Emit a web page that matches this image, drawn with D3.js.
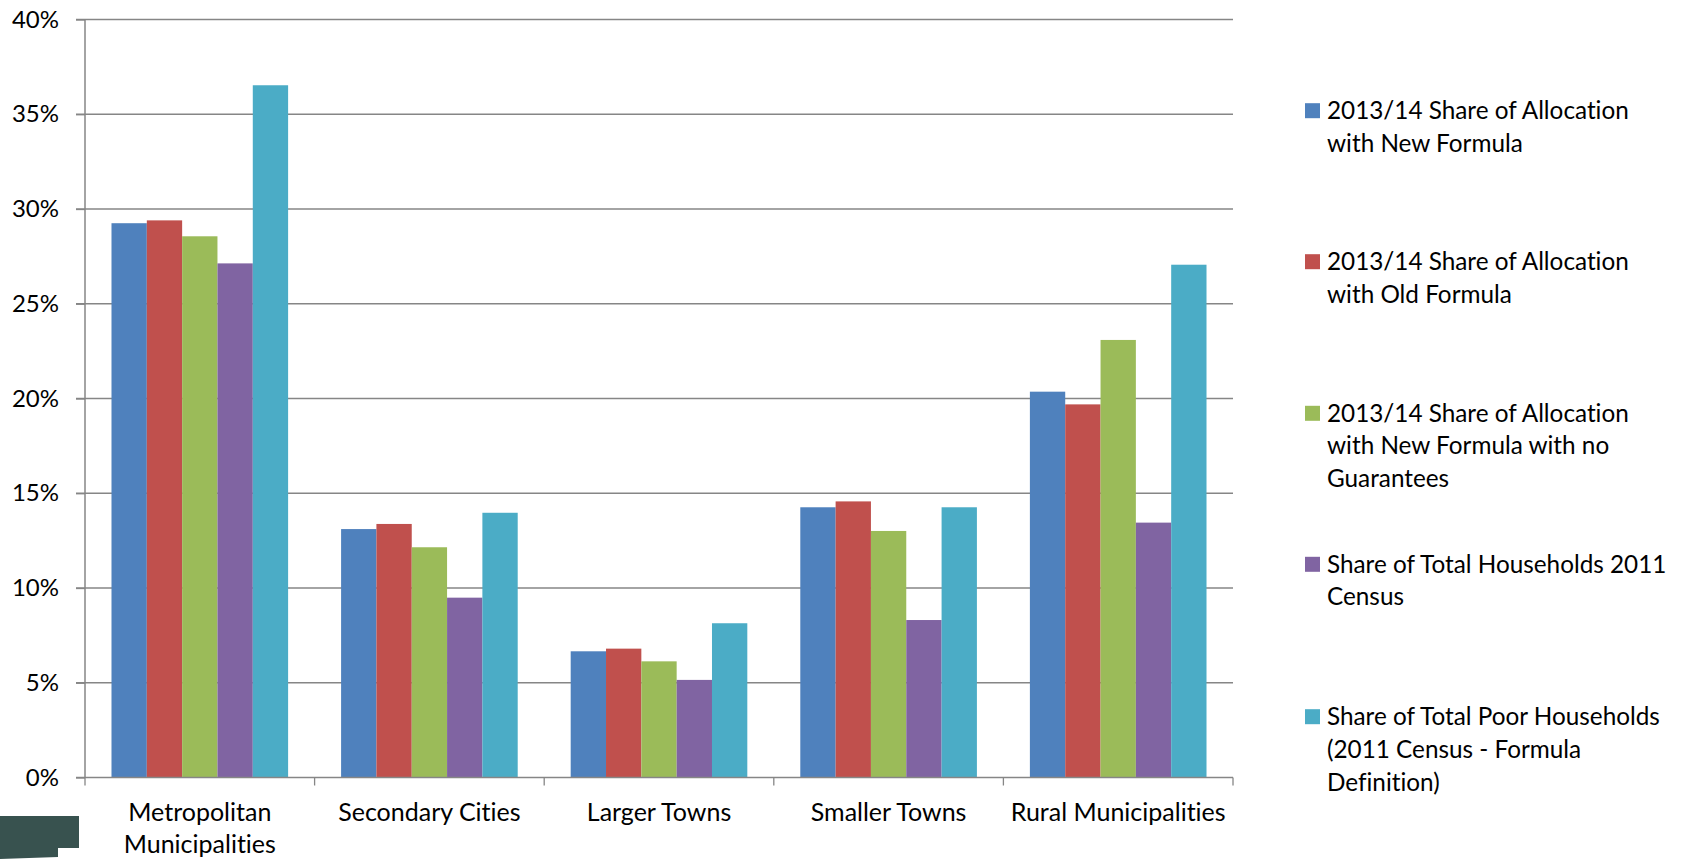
<!DOCTYPE html>
<html>
<head>
<meta charset="utf-8">
<script src="https://cdn.jsdelivr.net/npm/d3@7"></script>
<style>
  body { margin: 0; background: #fff; }
  text { font-family: Lato, "Open Sans", sans-serif; fill: #000; font-variant-ligatures: none; }
</style>
</head>
<body>
<div id="chart"></div>
<script>
// categories and series (values in %)
var categories = ["Metropolitan Municipalities", "Secondary Cities", "Larger Towns", "Smaller Towns", "Rural Municipalities"];
var categoryLines = [["Metropolitan", "Municipalities"], ["Secondary Cities"], ["Larger Towns"], ["Smaller Towns"], ["Rural Municipalities"]];

var seriesNames = [
  "2013/14 Share of Allocation with New Formula",
  "2013/14 Share of Allocation with Old Formula",
  "2013/14 Share of Allocation with New Formula with no Guarantees",
  "Share of Total Households 2011 Census",
  "Share of Total Poor Households (2011 Census - Formula Definition)"
];
var legendLines = [
  ["2013/14 Share of Allocation", "with New Formula"],
  ["2013/14 Share of Allocation", "with Old Formula"],
  ["2013/14 Share of Allocation", "with New Formula with no", "Guarantees"],
  ["Share of Total Households 2011", "Census"],
  ["Share of Total Poor Households", "(2011 Census - Formula", "Definition)"]
];

var newFormula     = [29.25, 13.11, 6.66, 14.26, 20.36];
var oldFormula     = [29.40, 13.38, 6.80, 14.57, 19.69];
var noGuarantees   = [28.56, 12.15, 6.13, 13.01, 23.09];
var households     = [27.13,  9.49, 5.15,  8.31, 13.45];
var poorHouseholds = [36.53, 13.97, 8.14, 14.26, 27.06];

var yTicks = [0, 5, 10, 15, 20, 25, 30, 35, 40];
var colors = ["#4F81BD", "#C0504D", "#9BBB59", "#8064A2", "#4BACC6"];

var seriesValues = [newFormula, oldFormula, noGuarantees, households, poorHouseholds];

var data = categories.map(function(c, i) {
  return { key: c, values: seriesNames.map(function(s, j) { return { grpName: s, grpValue: seriesValues[j][i] }; }) };
});

var margin = {top: 19.5, right: 449, bottom: 81.5, left: 85},
width = 1682 - margin.left - margin.right,
height = 859 - margin.top - margin.bottom;

var svg = d3.select("#chart").append("svg")
.attr("width", 1682)
.attr("height", 859);

var g = svg.append("g")
.attr("transform", "translate(" + margin.left + "," + margin.top + ")");

var x0 = d3.scaleBand().domain(categories).range([0, width]);
var x1 = d3.scaleBand().domain(seriesNames).range([0, x0.bandwidth()]).paddingOuter(0.75);
var y  = d3.scaleLinear().domain([0, 40]).range([height, 0]);
var color = d3.scaleOrdinal().domain(seriesNames).range(colors);

var axisColor = "#868686";

// gridlines
g.selectAll(".grid")
.data(yTicks.filter(function(t) { return t > 0; }))
.enter().append("line")
.attr("class", "grid")
.attr("x1", -9)
.attr("x2", width)
.attr("y1", function(d) { return y(d); })
.attr("y2", function(d) { return y(d); })
.style("stroke", axisColor)
.style("stroke-width", 1.3);

// y axis
var yAxis = d3.axisLeft(y).tickValues(yTicks).tickSize(9).tickPadding(17)
  .tickFormat(function(d) { return d + "%"; });
var yg = g.append("g").attr("class", "y axis").call(yAxis);
yg.select(".domain").attr("d", "M0,0V" + height).style("stroke", axisColor).style("stroke-width", 1.5);
yg.selectAll(".tick line").style("stroke", axisColor).style("stroke-width", 1.3);
yg.selectAll(".tick text").style("font-size", "24px").style("font-family", "Lato, sans-serif").attr("fill", "#000");

// bars
var slice = g.selectAll(".slice")
.data(data)
.enter().append("g")
.attr("class", "slice")
.attr("transform", function(d) { return "translate(" + x0(d.key) + ",0)"; });

slice.selectAll("rect")
.data(function(d) { return d.values; })
.enter().append("rect")
.attr("x", function(d) { return x1(d.grpName); })
.attr("width", x1.bandwidth())
.attr("y", function(d) { return y(d.grpValue); })
.attr("height", function(d) { return height - y(d.grpValue); })
.style("fill", function(d) { return color(d.grpName); });

// x axis
g.append("line")
.attr("x1", -9).attr("x2", width)
.attr("y1", height).attr("y2", height)
.style("stroke", axisColor).style("stroke-width", 1.5);

g.selectAll(".xtick")
.data(categories.map(function(c) { return x0(c); }).concat([width]))
.enter().append("line")
.attr("class", "xtick")
.attr("x1", function(d) { return d; }).attr("x2", function(d) { return d; })
.attr("y1", height).attr("y2", height + 8)
.style("stroke", axisColor).style("stroke-width", 1.3);

var xlab = g.selectAll(".xlab")
.data(categories)
.enter().append("text")
.attr("class", "xlab")
.attr("text-anchor", "middle")
.style("font-size", "25px")
.attr("transform", function(d) { return "translate(" + (x0(d) + x0.bandwidth() / 2) + "," + (height + 43) + ")"; });

xlab.selectAll("tspan")
.data(function(d, i) { return categoryLines[i]; })
.enter().append("tspan")
.attr("x", 0)
.attr("y", function(d, i) { return i * 32; })
.text(function(d) { return d; });

// legend
var legendY = [110.7, 261.7, 413.3, 564.3, 716.7];
var legend = svg.selectAll(".legend")
.data(seriesNames)
.enter().append("g")
.attr("class", "legend")
.attr("transform", function(d, i) { return "translate(1305," + legendY[i] + ")"; });

legend.append("rect")
.attr("x", 0)
.attr("y", -7.5)
.attr("width", 15)
.attr("height", 15)
.style("fill", function(d) { return color(d); });

var ltext = legend.append("text")
.attr("x", 22)
.style("font-size", "24.3px");

ltext.selectAll("tspan")
.data(function(d, i) { return legendLines[i]; })
.enter().append("tspan")
.attr("x", 22)
.attr("y", function(d, i) { return 8.5 + i * 32.7; })
.text(function(d) { return d; });

// slide decoration, bottom left
svg.append("path")
.attr("d", "M0,816 H79 V848 H58 V857 L0,859 Z")
.style("fill", "#38524F");
</script>
</body>
</html>
